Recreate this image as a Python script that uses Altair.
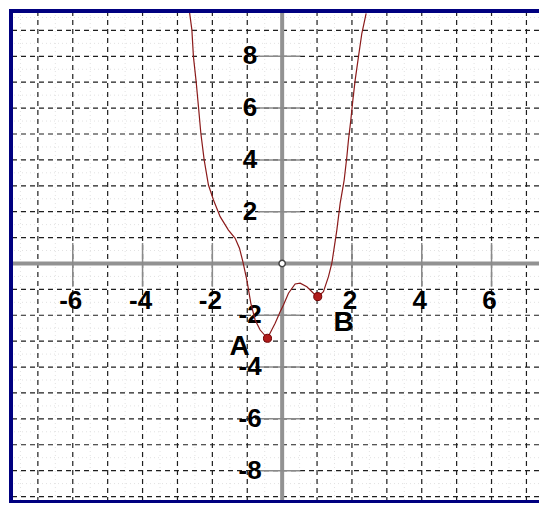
import altair as alt
import pandas as pd

# ---- data ----
curve_x = [-2.656, -2.587, -2.542, -2.464, -2.398, -2.330, -2.235, -2.112, -1.968, -1.777,
           -1.539, -1.347, -1.223, -1.126, -1.011, -0.897, -0.774, -0.630, -0.421, -0.201,
           -0.057, 0.037, 0.181, 0.372, 0.516, 0.708, 0.897, 1.023, 1.183, 1.327,
           1.424, 1.567, 1.662, 1.777, 1.854, 1.900, 1.968, 2.026, 2.092, 2.186,
           2.284, 2.407]
curve_y = [9.72, 9.02, 7.98, 7.02, 6.05, 5.03, 4.00, 3.03, 2.45, 1.81,
           1.29, 0.97, 0.59, 0.07, -0.64, -1.54, -2.18, -2.57, -2.89, -2.31,
           -1.86, -1.60, -1.15, -0.79, -0.76, -0.90, -1.15, -1.28, -1.09, -0.51,
           0.01, 1.29, 2.32, 3.22, 4.12, 4.77, 5.54, 6.31, 7.08, 7.98,
           8.89, 9.66]

point_names = ["A", "B"]
point_x = [-0.42, 1.02]
point_y = [-2.89, -1.28]
name_x = [-1.22, 1.76]
name_y = [-3.22, -2.30]

x_ticks = [-6, -4, -2, 2, 4, 6]
y_ticks = [-8, -6, -4, -2, 2, 4, 6, 8]
x_grid = list(range(-7, 8))
y_grid = list(range(-9, 10))
x_minor = [-7.5, -6.5, -5.5, -4.5, -3.5, -2.5, -1.5, -0.5, 0.5, 1.5, 2.5, 3.5, 4.5, 5.5, 6.5]
y_minor = [-8.5, -7.5, -6.5, -5.5, -4.5, -3.5, -2.5, -1.5, -0.5,
           0.5, 1.5, 2.5, 3.5, 4.5, 5.5, 6.5, 7.5, 8.5, 9.5]

X_DOMAIN = [-7.77, 7.36]
Y_DOMAIN = [-9.25, 9.75]

W, H = 528, 492
FONT = "Liberation Sans"

xs = alt.Scale(domain=X_DOMAIN, nice=False, zero=False)
ys = alt.Scale(domain=Y_DOMAIN, nice=False, zero=False)


def X(f):
    return alt.X(f, type="quantitative", scale=xs, axis=None)


def Y(f):
    return alt.Y(f, type="quantitative", scale=ys, axis=None)


curve_df = pd.DataFrame({"x": curve_x, "y": curve_y, "o": list(range(len(curve_x)))})
pts_df = pd.DataFrame({"name": point_names, "x": point_x, "y": point_y,
                       "nx": name_x, "ny": name_y})
xt_df = pd.DataFrame({"v": x_ticks, "lab": [str(v) for v in x_ticks],
                      "y0": [0.79] * len(x_ticks), "y1": [-0.90] * len(x_ticks),
                      "ly": [-1.45] * len(x_ticks)})
yt_df = pd.DataFrame({"v": y_ticks, "lab": [str(v) for v in y_ticks],
                      "x0": [-0.69] * len(y_ticks), "x1": [0.52] * len(y_ticks),
                      "lx": [-0.92] * len(y_ticks)})
xg_df = pd.DataFrame({"v": x_grid})
yg_df = pd.DataFrame({"v": y_grid})
xm_df = pd.DataFrame({"v": x_minor})
ym_df = pd.DataFrame({"v": y_minor})
origin_df = pd.DataFrame({"x": [0], "y": [0]})

minor_v = alt.Chart(xm_df).mark_rule(color="#e2e2e2", strokeWidth=1, strokeDash=[1, 3]).encode(x=X("v"))
minor_h = alt.Chart(ym_df).mark_rule(color="#e2e2e2", strokeWidth=1, strokeDash=[1, 3]).encode(y=Y("v"))
grid_v = alt.Chart(xg_df).mark_rule(color="#1e1e1e", strokeWidth=1.2, strokeDash=[5, 4]).encode(x=X("v"))
grid_h = alt.Chart(yg_df).mark_rule(color="#1e1e1e", strokeWidth=1.2, strokeDash=[5, 4]).encode(y=Y("v"))

tick_x = alt.Chart(xt_df).mark_rule(color="#8a8a8a", strokeWidth=1.5).encode(
    x=X("v"), y=Y("y0"), y2="y1")
tick_y = alt.Chart(yt_df).mark_rule(color="#8a8a8a", strokeWidth=1.5).encode(
    y=Y("v"), x=X("x0"), x2="x1")

axis_x = alt.Chart(origin_df).mark_rule(color="#929292", strokeWidth=4).encode(y=Y("y"))
axis_y = alt.Chart(origin_df).mark_rule(color="#929292", strokeWidth=4).encode(x=X("x"))

xlab = alt.Chart(xt_df).mark_text(font=FONT, fontSize=26, fontWeight="bold", color="black",
                                  align="center", baseline="middle", dx=-2).encode(
    x=X("v"), y=Y("ly"), text="lab:N")
ylab = alt.Chart(yt_df).mark_text(font=FONT, fontSize=26, fontWeight="bold", color="black",
                                  align="center", baseline="middle").encode(
    x=X("lx"), y=Y("v"), text="lab:N")

curve = alt.Chart(curve_df).mark_line(color="#8b1a1a", strokeWidth=1.2, clip=True).encode(
    x=X("x"), y=Y("y"), order="o:Q")

pts = alt.Chart(pts_df).mark_circle(size=65, color="#b01c1c", opacity=1,
                                    stroke="#6e0000", strokeWidth=1).encode(x=X("x"), y=Y("y"))
names = alt.Chart(pts_df).mark_text(font=FONT, fontSize=28, fontWeight="bold", color="black",
                                    align="center", baseline="middle").encode(
    x=X("nx"), y=Y("ny"), text="name:N")

origin = alt.Chart(origin_df).mark_point(shape="circle", size=40, filled=True, fill="white",
                                         stroke="#444444", strokeWidth=1.5, opacity=1).encode(
    x=X("x"), y=Y("y"))

frame_l = alt.Chart(origin_df).mark_rule(color="#000080", strokeWidth=4).encode(
    x=alt.value(0), y=alt.value(-2), y2=alt.value(H))
frame_t = alt.Chart(origin_df).mark_rule(color="#000080", strokeWidth=4).encode(
    y=alt.value(0), x=alt.value(-2), x2=alt.value(W))
frame_b = alt.Chart(origin_df).mark_rule(color="#000080", strokeWidth=4).encode(
    y=alt.value(H - 1), x=alt.value(-2), x2=alt.value(W))

chart = alt.layer(
    minor_v, minor_h, grid_v, grid_h, axis_x, axis_y, tick_x, tick_y,
    xlab, ylab, curve, pts, names, origin, frame_l, frame_t, frame_b
).properties(
    width=W, height=H,
    padding={"left": 3, "top": 3, "right": 0, "bottom": 0},
    autosize=alt.AutoSizeParams(type="none"),
    background="white",
).configure_view(stroke=None)

chart.save("out.html", embed_options={"renderer": "svg", "actions": False})
